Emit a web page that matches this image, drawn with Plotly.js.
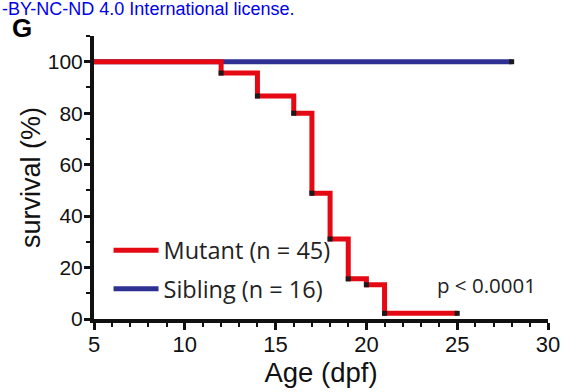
<!DOCTYPE html>
<html>
<head>
<meta charset="utf-8">
<script src="https://cdn.plot.ly/plotly-3.0.1.min.js"></script>
<style>html,body{margin:0;padding:0;background:#fff;}#chart{width:569px;height:392px;}</style>
</head>
<body>
<div id="chart"></div>
<script>
// Kaplan-Meier survival data
const mutantDays = [5, 12, 14, 16, 17, 18, 19, 20, 21, 25];
const mutantSurvival = [100, 95.6, 86.7, 80, 48.9, 31.1, 15.6, 13.3, 2.2, 2.2];
const siblingDays = [5, 28];
const siblingSurvival = [100, 100];
const mutantMarkDays = [12, 14, 16, 17, 18, 19, 20, 21, 25];
const mutantMarkSurvival = [95.6, 86.7, 80, 48.9, 31.1, 15.6, 13.3, 2.2, 2.2];
const siblingMarkDays = [28];
const siblingMarkSurvival = [100];
const seriesNames = ["Mutant (n = 45)", "Sibling (n = 16)"];
const xTicks = [5, 10, 15, 20, 25, 30];
const yTicks = [0, 20, 40, 60, 80, 100];

const red = "#e50914";
const blue = "#2e3192";

const traces = [
  {x: siblingDays, y: siblingSurvival, mode: "lines", line: {shape: "hv", color: blue, width: 5},
   name: seriesNames[1], legendgroup: "b", legendrank: 2, cliponaxis: false},
  {x: mutantDays, y: mutantSurvival, mode: "lines", line: {shape: "hv", color: red, width: 5},
   name: seriesNames[0], legendgroup: "a", legendrank: 1, cliponaxis: false},
  {x: mutantMarkDays.concat(siblingMarkDays), y: mutantMarkSurvival.concat(siblingMarkSurvival),
   mode: "markers", marker: {symbol: "square", size: 5, color: "#1a1a1a"},
   showlegend: false, cliponaxis: false, hoverinfo: "skip"}
];

const layout = {
  width: 569, height: 392,
  margin: {l: 94, r: 21, t: 36, b: 73},
  paper_bgcolor: "#fff", plot_bgcolor: "#fff",
  showlegend: true,
  legend: {x: 0.032, y: 0.32, xanchor: "left", yanchor: "top", bgcolor: "rgba(0,0,0,0)",
    itemwidth: 45,
    font: {family: "Open Sans", size: 23.5, color: "#222"}, traceorder: "grouped", tracegroupgap: 5},
  xaxis: {
    range: [5, 30], tickvals: xTicks, ticktext: xTicks.map(String),
    showgrid: false, zeroline: false, showline: true, linecolor: "#111", linewidth: 4,
    ticks: "outside", ticklen: 7, tickwidth: 3, tickcolor: "#111",
    minor: {dtick: 1, tick0: 5, ticks: "outside", ticklen: 4, tickwidth: 2, tickcolor: "#111"},
    tickfont: {family: "Liberation Sans, Arial", size: 22, color: "#111"},
    ticklabelstandoff: -4,
    title: {text: "Age (dpf)", font: {family: "Liberation Sans, Arial", size: 27.5, color: "#111"}, standoff: 0}
  },
  yaxis: {
    range: [0, 110], tickvals: yTicks, ticktext: yTicks.map(String),
    showgrid: false, zeroline: false, showline: true, linecolor: "#111", linewidth: 4,
    ticks: "outside", ticklen: 6, tickwidth: 3, tickcolor: "#111",
    minor: {dtick: 10, tick0: 0, ticks: "outside", ticklen: 4, tickwidth: 2, tickcolor: "#111"},
    tickfont: {family: "Liberation Sans, Arial", size: 21, color: "#111"},
    ticklabelstandoff: -3,
    title: {text: "survival (%)", font: {family: "Liberation Sans, Arial", size: 27, color: "#111"}, standoff: 0}
  },
  annotations: [
    {text: "p < 0.0001", x: 26.6, y: 13.2, xref: "x", yref: "y", showarrow: false,
     font: {family: "Open Sans", size: 20.5, color: "#222"}},
    {text: "<b>G</b>", x: -0.185, y: 1.028, xref: "paper", yref: "paper", xanchor: "left", yanchor: "middle",
     showarrow: false, font: {family: "Liberation Sans, Arial", size: 26, color: "#000"}},
    {text: "-BY-NC-ND 4.0 International license.", x: -0.207, y: 1.097, xref: "paper", yref: "paper",
     xanchor: "left", yanchor: "middle", showarrow: false,
     font: {family: "Liberation Sans, Arial", size: 18, color: "#0000ee"}}
  ]
};

Plotly.newPlot("chart", traces, layout, {displayModeBar: false, staticPlot: true});
</script>
</body>
</html>
